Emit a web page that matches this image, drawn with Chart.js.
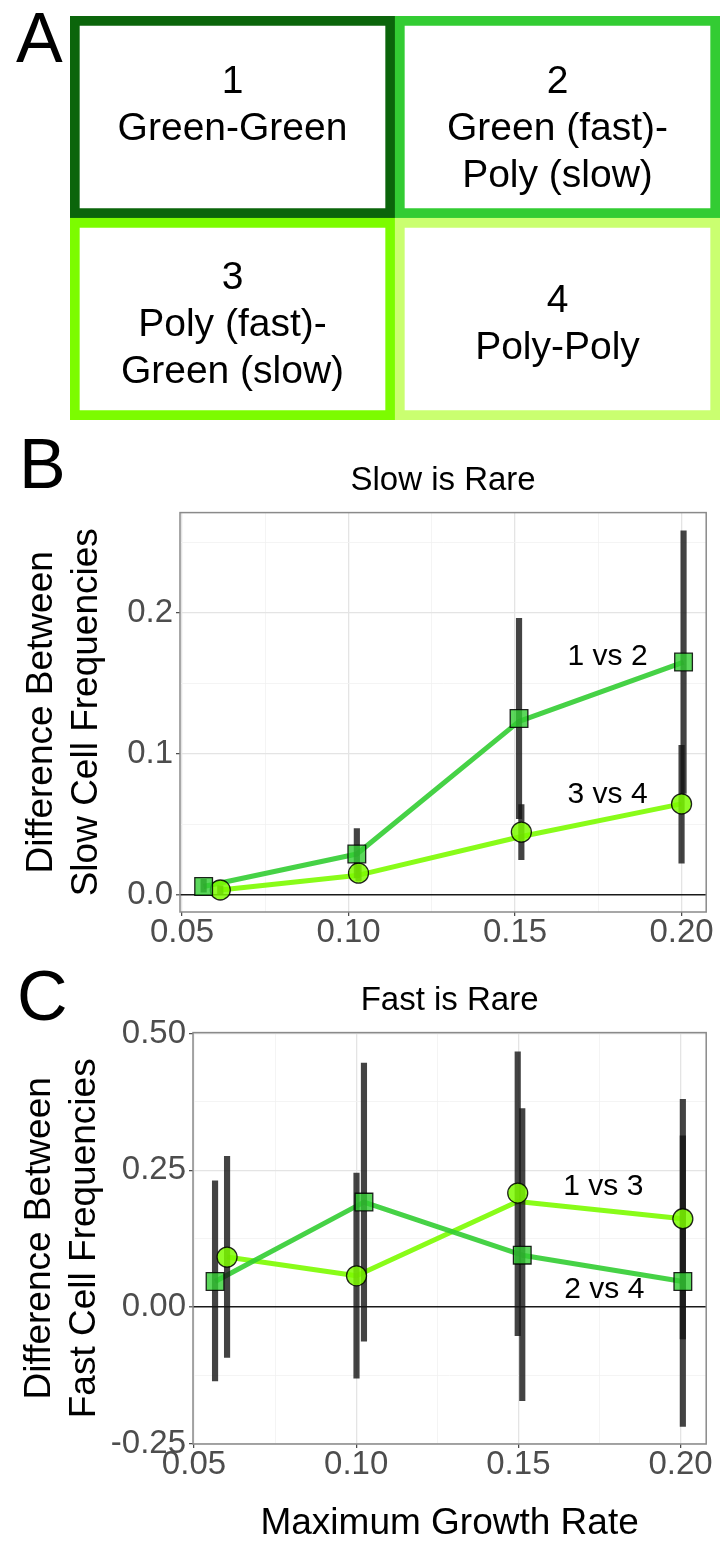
<!DOCTYPE html>
<html>
<head>
<meta charset="utf-8">
<title>Slow and fast cell frequencies</title>
<script src="https://cdn.jsdelivr.net/npm/chart.js@4.4.1/dist/chart.umd.min.js"></script>
<style>
  body { margin: 0; background: #fff; }
  #page { position: relative; width: 720px; height: 1542px; overflow: hidden; }
  canvas { position: absolute; left: 0; }
  .tag { position: absolute; font: 70px/70px 'Liberation Sans', Arial, sans-serif; color: #000; }
</style>
</head>
<body>
<div id="page">
  <canvas id="pairs" width="720" height="440" style="top:0"></canvas>
  <canvas id="slowRare" width="720" height="520" style="top:440px"></canvas>
  <canvas id="fastRare" width="720" height="582" style="top:960px"></canvas>
  <div class="tag" style="left:16px; top:3px">A</div>
  <div class="tag" style="left:19px; top:429px">B</div>
  <div class="tag" style="left:17px; top:961px">C</div>
</div>
<script>
// panel A: the four pairings, as a 2x2 stacked grid
const pairCols = ['left', 'right'];
const pairBottom = [1, 1];
const pairTop = [1, 1];
const pairBottomText = [['3', 'Poly (fast)-', 'Green (slow)'], ['4', 'Poly-Poly']];
const pairTopText = [['1', 'Green-Green', ''], ['2', 'Green (fast)-', 'Poly (slow)']];
const pairBottomColors = ['#7cfc00', '#caff70'];
const pairTopColors = ['#0b650b', '#33cc33'];

// shared x axis (maximum growth rate)
const xMajor = [0.05, 0.10, 0.15, 0.20];
const xMajorLabels = ['0.05', '0.10', '0.15', '0.20'];
const xMinor = [0.075, 0.125, 0.175];

// panel B: slow is rare
const slowYMajor = [0, 0.1, 0.2];
const slowYLabels = ['0.0', '0.1', '0.2'];
const slowYMinor = [0.05, 0.15, 0.25];

const slow12X = [0.0565, 0.1025, 0.1512, 0.2006];
const slow12Y = [0.006, 0.029, 0.125, 0.165];
const slow12Line = [0.006, 0.029, 0.123, 0.165];
const slow12Lo = [0.002, 0.012, 0.054, 0.072];
const slow12Hi = [0.011, 0.047, 0.196, 0.258];

const slow34X = [0.0615, 0.103, 0.1519, 0.2000];
const slow34Y = [0.0035, 0.0154, 0.0445, 0.0645];
const slow34Line = [0.0035, 0.014, 0.0414, 0.0645];
const slow34Lo = [0.0005, 0.010, 0.025, 0.0225];
const slow34Hi = [0.0065, 0.021, 0.064, 0.106];

// panel C: fast is rare
const fastYMajor = [-0.25, 0, 0.25, 0.5];
const fastYLabels = ['-0.25', '0.00', '0.25', '0.50'];
const fastYMinor = [-0.125, 0.125, 0.375];

const fast24X = [0.0565, 0.1024, 0.1512, 0.2007];
const fast24Y = [0.047, 0.192, 0.095, 0.047];
const fast24Line = [0.047, 0.192, 0.095, 0.047];
const fast24Lo = [-0.135, -0.062, -0.171, -0.218];
const fast24Hi = [0.231, 0.446, 0.363, 0.380];

const fast13X = [0.0602, 0.1001, 0.1498, 0.2007];
const fast13Y = [0.0915, 0.0573, 0.2085, 0.1616];
const fast13Line = [0.0915, 0.0573, 0.193, 0.1616];
const fast13Lo = [-0.092, -0.130, -0.052, -0.058];
const fast13Hi = [0.2756, 0.245, 0.4665, 0.313];

// comparison labels, in data units
const slowNotes = [['1 vs 2', 0.1778, 0.169], ['3 vs 4', 0.1778, 0.071]];
const fastNotes = [['1 vs 3', 0.1762, 0.2206], ['2 vs 4', 0.1765, 0.0316]];

const FONT = "'Liberation Sans', Arial, Helvetica, sans-serif";
Chart.defaults.font.family = FONT;
Chart.defaults.color = '#4d4d4d';

const LIME = 'rgba(50,205,50,0.9)';
const LAWN = 'rgba(124,252,0,0.9)';

// ---------- panel A ----------
// text sits a little below the middle of each cell, more so in the top row
const cellText = {
  id: 'cellText',
  afterDatasetsDraw(chart) {
    const ctx = chart.ctx;
    ctx.save();
    ctx.fillStyle = '#000';
    ctx.font = '39px ' + FONT;
    ctx.textAlign = 'center';
    ctx.textBaseline = 'middle';
    chart.data.datasets.forEach((ds, di) => {
      chart.getDatasetMeta(di).data.forEach((bar, i) => {
        const lines = ds.cellText[i];
        const cy = (bar.y + bar.base) / 2 + (di === 1 ? 12 : 6);
        lines.forEach((t, k) => ctx.fillText(t, bar.x, cy + (k - (lines.length - 1) / 2) * 47));
      });
    });
    ctx.restore();
  }
};

new Chart(document.getElementById('pairs'), {
  type: 'bar',
  data: {
    labels: pairCols,
    datasets: [
      { data: pairBottom, cellText: pairBottomText, borderColor: pairBottomColors },
      { data: pairTop, cellText: pairTopText, borderColor: pairTopColors }
    ]
  },
  options: {
    responsive: false,
    animation: false,
    layout: { padding: { left: 70, top: 16, right: 0, bottom: 20 } },
    datasets: {
      bar: {
        backgroundColor: '#fff',
        borderWidth: 10,
        borderSkipped: false,
        categoryPercentage: 1,
        barPercentage: 1
      }
    },
    plugins: { legend: { display: false }, tooltip: { enabled: false } },
    scales: {
      x: { stacked: true, display: false },
      y: { stacked: true, display: false, min: 0, max: 2 }
    }
  },
  plugins: [cellText]
});

// ---------- panels B and C ----------
const frameAndNotes = {
  id: 'frameAndNotes',
  afterDatasetsDraw(chart, args, opts) {
    const { ctx, chartArea: a, scales } = chart;
    ctx.save();
    ctx.fillStyle = '#000';
    ctx.font = '30px ' + FONT;
    ctx.textAlign = 'center';
    ctx.textBaseline = 'middle';
    opts.notes.forEach(([t, x, y]) => {
      ctx.fillText(t, scales.x.getPixelForValue(x), scales.y.getPixelForValue(y));
    });
    ctx.strokeStyle = '#8a8a8a';
    ctx.lineWidth = 1.5;
    ctx.strokeRect(a.left, a.top, a.right - a.left, a.bottom - a.top);
    ctx.restore();
  }
};

function pts(xs, ys) {
  return xs.map((x, i) => ({ x: x, y: ys[i] }));
}

function ranges(xs, lo, hi) {
  return xs.map((x, i) => ({ x: x, y: [lo[i], hi[i]] }));
}

function tickList(major, minor) {
  return major.concat(minor).sort((a, b) => a - b).map(v => ({ value: v }));
}

function drawPanel(id, p) {
  const isMajorX = v => xMajor.includes(v);
  const isMajorY = v => p.yMajor.includes(v);
  const datasets = [];
  p.series.forEach(s => {
    datasets.push({
      type: 'line', data: pts(s.x, s.line), borderColor: s.stroke, borderWidth: 5,
      pointRadius: 0, tension: 0, borderJoinStyle: 'round', order: 3
    });
    datasets.push({
      type: 'line', showLine: false, data: pts(s.x, s.y), pointStyle: s.shape,
      pointRadius: s.shape === 'rect' ? 12.5 : 10, pointBackgroundColor: s.fill,
      pointBorderColor: 'rgba(0,0,0,0.85)', pointBorderWidth: 1.3, order: 1
    });
  });
  // one floating-bar dataset holds every error bar of the panel
  datasets.push({
    type: 'bar',
    data: p.series.reduce((all, s) => all.concat(ranges(s.x, s.lo, s.hi)), []),
    backgroundColor: 'rgba(20,20,20,0.8)',
    barThickness: 5.5,
    order: 2
  });

  new Chart(document.getElementById(id), {
    type: 'line',
    data: { datasets: datasets },
    options: {
      responsive: false,
      animation: false,
      layout: { padding: { top: 0, left: 0, right: 6, bottom: 0 } },
      plugins: {
        legend: { display: false },
        tooltip: { enabled: false },
        title: {
          display: true, text: p.title, fullSize: false, color: '#000',
          font: { size: 33, weight: 'normal', lineHeight: 1.2 },
          padding: { top: 21, bottom: 12 }
        },
        frameAndNotes: { notes: p.notes }
      },
      scales: {
        x: {
          type: 'linear', min: p.xMin, max: p.xMax, offset: false,
          afterBuildTicks: sc => { sc.ticks = tickList(xMajor, xMinor); },
          afterFit: sc => { sc.height = p.xAxisHeight; sc.paddingLeft = 0; sc.paddingRight = 0; },
          border: { display: false },
          grid: {
            offset: false,
            color: c => isMajorX(c.tick.value) ? '#e4e4e4' : '#f1f1f1',
            lineWidth: c => isMajorX(c.tick.value) ? 1.3 : 0.8,
            tickColor: c => isMajorX(c.tick.value) ? '#444' : 'rgba(0,0,0,0)',
            tickLength: 4,
            tickWidth: 1.2
          },
          ticks: {
            autoSkip: false, maxRotation: 0, minRotation: 0, padding: 0,
            font: { size: 33, lineHeight: 1 },
            callback: v => isMajorX(v) ? xMajorLabels[xMajor.indexOf(v)] : ''
          },
          title: p.xTitle ? {
            display: true, text: p.xTitle, color: '#000',
            font: { size: 37, lineHeight: 1 }, padding: { top: 0, bottom: 0 }
          } : { display: false }
        },
        y: {
          type: 'linear', min: p.yMin, max: p.yMax,
          afterBuildTicks: sc => { sc.ticks = tickList(p.yMajor, p.yMinor); },
          afterFit: sc => { sc.width = p.yAxisWidth; sc.paddingTop = 0; sc.paddingBottom = 0; },
          border: { display: false },
          grid: {
            color: c => c.tick.value === 0 ? '#1a1a1a' : (isMajorY(c.tick.value) ? '#e4e4e4' : '#f1f1f1'),
            lineWidth: c => c.tick.value === 0 ? 1.6 : (isMajorY(c.tick.value) ? 1.3 : 0.8),
            tickColor: c => isMajorY(c.tick.value) ? '#444' : 'rgba(0,0,0,0)',
            tickLength: 4,
            tickWidth: 1.2
          },
          ticks: {
            autoSkip: false, padding: 3,
            font: { size: 33, lineHeight: 1 },
            callback: v => isMajorY(v) ? p.yLabels[p.yMajor.indexOf(v)] : ''
          },
          title: {
            display: true, text: p.yTitle, color: '#000',
            font: { size: 37, lineHeight: 1.216 },
            padding: { top: p.yTitlePad, bottom: 0 }
          }
        }
      }
    },
    plugins: [frameAndNotes]
  });
}

drawPanel('slowRare', {
  title: 'Slow is Rare',
  yTitle: ['Difference Between', 'Slow Cell Frequencies'],
  yTitlePad: 19.5,
  xMin: 0.0494, xMax: 0.2074, yMin: -0.0121, yMax: 0.2709,
  yMajor: slowYMajor, yLabels: slowYLabels, yMinor: slowYMinor,
  yAxisWidth: 180, xAxisHeight: 48,
  notes: slowNotes,
  series: [
    { x: slow12X, y: slow12Y, line: slow12Line, lo: slow12Lo, hi: slow12Hi,
      shape: 'rect', stroke: LIME, fill: 'rgba(50,205,50,0.8)' },
    { x: slow34X, y: slow34Y, line: slow34Line, lo: slow34Lo, hi: slow34Hi,
      shape: 'circle', stroke: LAWN, fill: 'rgba(124,252,0,0.85)' }
  ]
});

drawPanel('fastRare', {
  title: 'Fast is Rare',
  yTitle: ['Difference Between', 'Fast Cell Frequencies'],
  yTitlePad: 17.5,
  xTitle: 'Maximum Growth Rate',
  xMin: 0.0497, xMax: 0.2079, yMin: -0.2501, yMax: 0.5018,
  yMajor: fastYMajor, yLabels: fastYLabels, yMinor: fastYMinor,
  yAxisWidth: 193, xAxisHeight: 98,
  notes: fastNotes,
  series: [
    { x: fast24X, y: fast24Y, line: fast24Line, lo: fast24Lo, hi: fast24Hi,
      shape: 'rect', stroke: LIME, fill: 'rgba(50,205,50,0.8)' },
    { x: fast13X, y: fast13Y, line: fast13Line, lo: fast13Lo, hi: fast13Hi,
      shape: 'circle', stroke: LAWN, fill: 'rgba(124,252,0,0.85)' }
  ]
});
</script>
</body>
</html>
